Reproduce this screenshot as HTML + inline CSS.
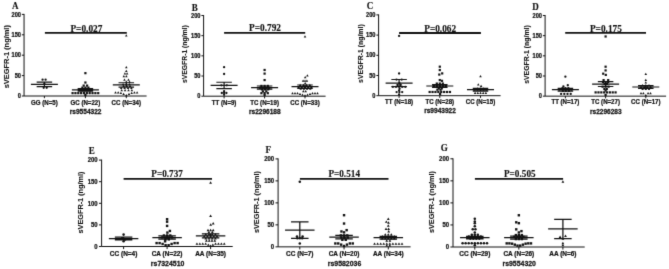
<!DOCTYPE html>
<html lang="en">
<head>
<meta charset="utf-8">
<title>sVEGFR-1 levels by genotype</title>
<style>
html,body{margin:0;padding:0;background:#fff;}
body{width:669px;height:269px;overflow:hidden;}
svg{display:block;}
text{fill:#111;font-weight:bold;stroke:#111;stroke-width:0.25px;}
text.ss{font-family:'Liberation Sans', Arial, sans-serif;}
text.sf{font-family:'Liberation Serif', 'Times New Roman', serif;stroke-width:0.15px;}
text.yl{stroke-width:0.1px;}
.ax{fill:none;stroke:#111;}
.pt{fill:#111;}
</style>
</head>
<body>
<svg width="669" height="269" viewBox="0 0 669 269">
<defs>
<filter id="soft" x="0" y="0" width="100%" height="100%" color-interpolation-filters="sRGB">
<feConvolveMatrix order="3" kernelMatrix="0.0113 0.0838 0.0113 0.0838 0.6193 0.0838 0.0113 0.0838 0.0113" edgeMode="duplicate" preserveAlpha="true"/>
</filter>
</defs>
<g filter="url(#soft)">
<rect width="669" height="269" fill="#fff"/>
<g id="panel-A">
<path class="ax" d="M24.05 13.9V96H146.6M21.85 96H24.05M21.85 75.6H24.05M21.85 55.2H24.05M21.85 34.8H24.05M21.85 14.4H24.05M44.4 96V98.2M85.4 96V98.2M126.3 96V98.2" stroke-width="1"/>
<text class="ss" transform="translate(20.95 98.17) scale(0.9 1)" text-anchor="end" font-size="6.3">0</text>
<text class="ss" transform="translate(20.95 77.77) scale(0.9 1)" text-anchor="end" font-size="6.3">50</text>
<text class="ss" transform="translate(20.95 57.37) scale(0.9 1)" text-anchor="end" font-size="6.3">100</text>
<text class="ss" transform="translate(20.95 36.97) scale(0.9 1)" text-anchor="end" font-size="6.3">150</text>
<text class="ss" transform="translate(20.95 16.57) scale(0.9 1)" text-anchor="end" font-size="6.3">200</text>
<text class="ss yl" transform="translate(8.7 56.7) rotate(-90)" text-anchor="middle" font-size="7.45">sVEGFR-1 (ng/ml)</text>
<text class="sf" transform="translate(12.1 8.8) scale(0.86 1)" font-size="10.5">A</text>
<path class="ax" d="M44.9 32.9H126.8" stroke-width="1.9"/>
<text class="sf" x="70.4" y="31.65" textLength="32" lengthAdjust="spacingAndGlyphs" font-size="10.4">P=0.027</text>
<text class="ss" transform="translate(85.6 113.9) scale(0.95 1)" text-anchor="middle" font-size="6.9">rs9554322</text>
<text class="ss" transform="translate(44.4 104.5) scale(0.9 1)" text-anchor="middle" font-size="6.8">GG (N=5)</text>
<g class="pt"><circle cx="42.6" cy="79.68" r="1.16"/><circle cx="45.6" cy="79.68" r="1.16"/><circle cx="44.4" cy="83.96" r="1.16"/><circle cx="43.7" cy="87.84" r="1.16"/><circle cx="46.7" cy="87.84" r="1.16"/></g>
<path class="ax" d="M30.9 84.33H57.9M36.65 82.13H52.15M36.65 86.53H52.15M44.4 82.13V86.53" stroke-width="1.2"/>
<text class="ss" transform="translate(85.4 104.5) scale(0.9 1)" text-anchor="middle" font-size="6.8">GC (N=22)</text>
<g class="pt"><rect x="84.3" y="72.05" width="2.2" height="2.2"/><rect x="84.3" y="81.44" width="2.2" height="2.2"/><rect x="82.6" y="84.5" width="2.2" height="2.2"/><rect x="86" y="84.5" width="2.2" height="2.2"/><rect x="81.3" y="86.54" width="2.2" height="2.2"/><rect x="84.3" y="86.54" width="2.2" height="2.2"/><rect x="87.3" y="86.54" width="2.2" height="2.2"/><rect x="80.1" y="87.96" width="2.2" height="2.2"/><rect x="82.9" y="87.96" width="2.2" height="2.2"/><rect x="85.7" y="87.96" width="2.2" height="2.2"/><rect x="88.5" y="87.96" width="2.2" height="2.2"/><rect x="80.5" y="89.19" width="2.2" height="2.2"/><rect x="83.3" y="89.19" width="2.2" height="2.2"/><rect x="86.1" y="89.19" width="2.2" height="2.2"/><rect x="88.9" y="89.19" width="2.2" height="2.2"/><rect x="71.48" y="92.04" width="2.2" height="2.2"/><rect x="74.33" y="92.04" width="2.2" height="2.2"/><rect x="77.18" y="92.04" width="2.2" height="2.2"/><rect x="80.03" y="92.04" width="2.2" height="2.2"/><rect x="82.88" y="92.04" width="2.2" height="2.2"/><rect x="85.73" y="92.04" width="2.2" height="2.2"/><rect x="88.58" y="92.04" width="2.2" height="2.2"/><rect x="91.43" y="92.04" width="2.2" height="2.2"/><rect x="94.28" y="92.04" width="2.2" height="2.2"/><rect x="97.13" y="92.04" width="2.2" height="2.2"/><rect x="84.3" y="93.88" width="2.2" height="2.2"/></g>
<path class="ax" d="M71.9 89.88H98.9M77.65 88.66H93.15M77.65 91.1H93.15M85.4 88.66V91.1" stroke-width="1.2"/>
<text class="ss" transform="translate(126.3 104.5) scale(0.9 1)" text-anchor="middle" font-size="6.8">CC (N=34)</text>
<g class="pt"><path d="M126.3 34.35L127.56 36.61L125.03 36.61Z"/><path d="M126.3 65.93L127.56 68.19L125.03 68.19Z"/><path d="M126.3 69.64L127.56 71.9L125.03 71.9Z"/><path d="M124.9 72.3L126.17 74.55L123.64 74.55Z"/><path d="M127.1 72.3L128.36 74.55L125.83 74.55Z"/><path d="M123.8 74.91L125.06 77.16L122.53 77.16Z"/><path d="M126.4 74.91L127.66 77.16L125.13 77.16Z"/><path d="M124.5 78.62L125.77 80.87L123.23 80.87Z"/><path d="M128.5 78.62L129.76 80.87L127.23 80.87Z"/><path d="M126.3 80.45L127.56 82.71L125.03 82.71Z"/><path d="M129.5 80.45L130.76 82.71L128.24 82.71Z"/><path d="M123.1 82.9L124.36 85.16L121.83 85.16Z"/><path d="M126.3 82.9L127.56 85.16L125.03 85.16Z"/><path d="M129.5 82.9L130.76 85.16L128.24 85.16Z"/><path d="M123.6 84.74L124.86 86.99L122.33 86.99Z"/><path d="M126.8 84.74L128.06 86.99L125.53 86.99Z"/><path d="M130 84.74L131.26 86.99L128.74 86.99Z"/><path d="M121.2 86.78L122.47 89.03L119.94 89.03Z"/><path d="M124.6 86.78L125.86 89.03L123.33 89.03Z"/><path d="M128 86.78L129.26 89.03L126.73 89.03Z"/><path d="M131.4 86.78L132.66 89.03L130.14 89.03Z"/><path d="M121.7 89.02L122.97 91.28L120.44 91.28Z"/><path d="M125.1 89.02L126.36 91.28L123.83 91.28Z"/><path d="M128.5 89.02L129.76 91.28L127.23 91.28Z"/><path d="M131.9 89.02L133.16 91.28L130.64 91.28Z"/><path d="M115.5 91.27L116.77 93.52L114.23 93.52Z"/><path d="M118.2 91.27L119.46 93.52L116.93 93.52Z"/><path d="M120.9 91.8L122.16 94.05L119.63 94.05Z"/><path d="M123.6 92.86L124.86 95.11L122.33 95.11Z"/><path d="M126.3 93.92L127.56 96.17L125.03 96.17Z"/><path d="M129 92.86L130.26 95.11L127.73 95.11Z"/><path d="M131.7 91.8L132.96 94.05L130.44 94.05Z"/><path d="M134.4 91.27L135.66 93.52L133.14 93.52Z"/><path d="M137.1 91.27L138.36 93.52L135.84 93.52Z"/></g>
<path class="ax" d="M112.8 84.9H139.8M118.55 82.74H134.05M118.55 87.06H134.05M126.3 82.74V87.06" stroke-width="1.2"/>
</g>
<g id="panel-B">
<path class="ax" d="M203.6 15V96.2H325.6M201.4 96.2H203.6M201.4 76.03H203.6M201.4 55.85H203.6M201.4 35.67H203.6M201.4 15.5H203.6M224.1 96.2V98.4M264.6 96.2V98.4M305 96.2V98.4" stroke-width="1"/>
<text class="ss" transform="translate(200.5 98.37) scale(0.9 1)" text-anchor="end" font-size="6.3">0</text>
<text class="ss" transform="translate(200.5 78.2) scale(0.9 1)" text-anchor="end" font-size="6.3">50</text>
<text class="ss" transform="translate(200.5 58.02) scale(0.9 1)" text-anchor="end" font-size="6.3">100</text>
<text class="ss" transform="translate(200.5 37.85) scale(0.9 1)" text-anchor="end" font-size="6.3">150</text>
<text class="ss" transform="translate(200.5 17.67) scale(0.9 1)" text-anchor="end" font-size="6.3">200</text>
<text class="ss yl" transform="translate(186.8 54.15) rotate(-90)" text-anchor="middle" font-size="6.8">sVEGFR-1 (ng/ml)</text>
<text class="sf" transform="translate(191.8 10.5) scale(0.86 1)" font-size="10.5">B</text>
<path class="ax" d="M224.1 32.9H305.2" stroke-width="1.9"/>
<text class="sf" x="249" y="31.35" textLength="32" lengthAdjust="spacingAndGlyphs" font-size="10.4">P=0.792</text>
<text class="ss" transform="translate(264.8 113.9) scale(0.95 1)" text-anchor="middle" font-size="6.9">rs2296188</text>
<text class="ss" transform="translate(224.1 104.5) scale(0.9 1)" text-anchor="middle" font-size="6.8">TT (N=9)</text>
<g class="pt"><circle cx="224.1" cy="67.15" r="1.16"/><circle cx="224.1" cy="74.01" r="1.16"/><circle cx="221.4" cy="85.31" r="1.16"/><circle cx="226.8" cy="85.31" r="1.16"/><circle cx="224.1" cy="91.16" r="1.16"/><circle cx="221.8" cy="92.97" r="1.16"/><circle cx="224.1" cy="92.97" r="1.16"/><circle cx="226.4" cy="92.97" r="1.16"/><circle cx="224.1" cy="94.79" r="1.16"/></g>
<path class="ax" d="M210.6 85.39H237.6M216.35 82.24H231.85M216.35 88.53H231.85M224.1 82.24V88.53" stroke-width="1.2"/>
<text class="ss" transform="translate(264.6 104.5) scale(0.9 1)" text-anchor="middle" font-size="6.8">TC (N=19)</text>
<g class="pt"><rect x="263.5" y="68.87" width="2.2" height="2.2"/><rect x="263.5" y="72.5" width="2.2" height="2.2"/><rect x="263.5" y="78.96" width="2.2" height="2.2"/><rect x="260.3" y="84.81" width="2.2" height="2.2"/><rect x="263.5" y="84.81" width="2.2" height="2.2"/><rect x="266.7" y="84.81" width="2.2" height="2.2"/><rect x="259" y="86.63" width="2.2" height="2.2"/><rect x="262" y="86.63" width="2.2" height="2.2"/><rect x="265" y="86.63" width="2.2" height="2.2"/><rect x="268" y="86.63" width="2.2" height="2.2"/><rect x="260.8" y="88.24" width="2.2" height="2.2"/><rect x="264" y="88.24" width="2.2" height="2.2"/><rect x="267.2" y="88.24" width="2.2" height="2.2"/><rect x="261.8" y="90.26" width="2.2" height="2.2"/><rect x="265.2" y="90.26" width="2.2" height="2.2"/><rect x="260.3" y="92.07" width="2.2" height="2.2"/><rect x="263.5" y="92.07" width="2.2" height="2.2"/><rect x="266.7" y="92.07" width="2.2" height="2.2"/><rect x="263.5" y="93.89" width="2.2" height="2.2"/></g>
<path class="ax" d="M251.1 87.61H278.1M256.85 85.99H272.35M256.85 89.22H272.35M264.6 85.99V89.22" stroke-width="1.2"/>
<text class="ss" transform="translate(305 104.5) scale(0.9 1)" text-anchor="middle" font-size="6.8">CC (N=33)</text>
<g class="pt"><path d="M305 35.22L306.26 37.47L303.74 37.47Z"/><path d="M307.4 74.15L308.66 76.41L306.13 76.41Z"/><path d="M305.2 75.97L306.46 78.23L303.94 78.23Z"/><path d="M303.1 79.6L304.37 81.86L301.84 81.86Z"/><path d="M305 79.6L306.26 81.86L303.74 81.86Z"/><path d="M306.9 79.6L308.16 81.86L305.63 81.86Z"/><path d="M305.2 82.02L306.46 84.28L303.94 84.28Z"/><path d="M300.2 83.64L301.46 85.89L298.94 85.89Z"/><path d="M303.4 83.64L304.66 85.89L302.13 85.89Z"/><path d="M306.6 83.64L307.87 85.89L305.34 85.89Z"/><path d="M309.8 83.64L311.06 85.89L308.54 85.89Z"/><path d="M298.6 85.65L299.87 87.91L297.34 87.91Z"/><path d="M301.8 85.65L303.06 87.91L300.54 87.91Z"/><path d="M305 85.65L306.26 87.91L303.74 87.91Z"/><path d="M308.2 85.65L309.46 87.91L306.94 87.91Z"/><path d="M311.4 85.65L312.66 87.91L310.13 87.91Z"/><path d="M300.7 87.47L301.96 89.73L299.44 89.73Z"/><path d="M303.9 87.47L305.16 89.73L302.63 89.73Z"/><path d="M307.1 87.47L308.37 89.73L305.84 89.73Z"/><path d="M310.3 87.47L311.56 89.73L309.04 89.73Z"/><path d="M303.3 90.09L304.56 92.35L302.04 92.35Z"/><path d="M305.7 90.09L306.96 92.35L304.44 92.35Z"/><path d="M292.5 91.91L293.76 94.16L291.24 94.16Z"/><path d="M295 91.91L296.26 94.16L293.74 94.16Z"/><path d="M297.5 92.01L298.76 94.26L296.24 94.26Z"/><path d="M300 92.78L301.26 95.04L298.74 95.04Z"/><path d="M302.5 93.56L303.76 95.81L301.24 95.81Z"/><path d="M305 94.33L306.26 96.58L303.74 96.58Z"/><path d="M307.5 93.56L308.76 95.81L306.24 95.81Z"/><path d="M310 92.78L311.26 95.04L308.74 95.04Z"/><path d="M312.5 92.01L313.76 94.26L311.24 94.26Z"/><path d="M315 91.91L316.26 94.16L313.74 94.16Z"/><path d="M317.5 91.91L318.76 94.16L316.24 94.16Z"/></g>
<path class="ax" d="M291.5 86.72H318.5M297.25 85.02H312.75M297.25 88.41H312.75M305 85.02V88.41" stroke-width="1.2"/>
</g>
<g id="panel-C">
<path class="ax" d="M378.6 14.4V95.7H500.6M376.4 95.7H378.6M376.4 75.5H378.6M376.4 55.3H378.6M376.4 35.1H378.6M376.4 14.9H378.6M399.1 95.7V97.9M439.8 95.7V97.9M480.5 95.7V97.9" stroke-width="1"/>
<text class="ss" transform="translate(375.5 97.87) scale(0.9 1)" text-anchor="end" font-size="6.3">0</text>
<text class="ss" transform="translate(375.5 77.67) scale(0.9 1)" text-anchor="end" font-size="6.3">50</text>
<text class="ss" transform="translate(375.5 57.47) scale(0.9 1)" text-anchor="end" font-size="6.3">100</text>
<text class="ss" transform="translate(375.5 37.27) scale(0.9 1)" text-anchor="end" font-size="6.3">150</text>
<text class="ss" transform="translate(375.5 17.07) scale(0.9 1)" text-anchor="end" font-size="6.3">200</text>
<text class="ss yl" transform="translate(363.2 53.6) rotate(-90)" text-anchor="middle" font-size="6.9">sVEGFR-1 (ng/ml)</text>
<text class="sf" transform="translate(366.8 8.9) scale(0.86 1)" font-size="10.5">C</text>
<path class="ax" d="M399.1 33H480.9" stroke-width="1.9"/>
<text class="sf" x="424.2" y="31.75" textLength="32" lengthAdjust="spacingAndGlyphs" font-size="10.4">P=0.062</text>
<text class="ss" transform="translate(440 113) scale(0.95 1)" text-anchor="middle" font-size="6.9">rs9943922</text>
<text class="ss" transform="translate(399.1 103.8) scale(0.9 1)" text-anchor="middle" font-size="6.8">TT (N=18)</text>
<g class="pt"><circle cx="399.1" cy="35.91" r="1.16"/><circle cx="399.1" cy="73.48" r="1.16"/><circle cx="396.5" cy="79.54" r="1.16"/><circle cx="401.7" cy="79.54" r="1.16"/><circle cx="399.5" cy="83.18" r="1.16"/><circle cx="397.5" cy="84.99" r="1.16"/><circle cx="400.7" cy="84.99" r="1.16"/><circle cx="392.9" cy="86.81" r="1.16"/><circle cx="396" cy="86.81" r="1.16"/><circle cx="399.1" cy="86.81" r="1.16"/><circle cx="402.2" cy="86.81" r="1.16"/><circle cx="405.3" cy="86.81" r="1.16"/><circle cx="399.6" cy="88.83" r="1.16"/><circle cx="399.1" cy="90.45" r="1.16"/><circle cx="396.6" cy="92.06" r="1.16"/><circle cx="399.4" cy="92.06" r="1.16"/><circle cx="402.2" cy="92.06" r="1.16"/><circle cx="399.1" cy="94.49" r="1.16"/></g>
<path class="ax" d="M385.6 83.05H412.6M391.35 79.5H406.85M391.35 86.61H406.85M399.1 79.5V86.61" stroke-width="1.2"/>
<text class="ss" transform="translate(439.8 103.8) scale(0.9 1)" text-anchor="middle" font-size="6.8">TC (N=28)</text>
<g class="pt"><rect x="438.7" y="65.59" width="2.2" height="2.2"/><rect x="438.7" y="68.95" width="2.2" height="2.2"/><rect x="441.1" y="72.3" width="2.2" height="2.2"/><rect x="438.2" y="73.47" width="2.2" height="2.2"/><rect x="438.7" y="78.97" width="2.2" height="2.2"/><rect x="440.9" y="79.73" width="2.2" height="2.2"/><rect x="435.7" y="82.48" width="2.2" height="2.2"/><rect x="438.7" y="82.48" width="2.2" height="2.2"/><rect x="441.7" y="82.48" width="2.2" height="2.2"/><rect x="432.7" y="84.1" width="2.2" height="2.2"/><rect x="435.7" y="84.1" width="2.2" height="2.2"/><rect x="438.7" y="84.1" width="2.2" height="2.2"/><rect x="441.7" y="84.1" width="2.2" height="2.2"/><rect x="444.7" y="84.1" width="2.2" height="2.2"/><rect x="432.7" y="85.71" width="2.2" height="2.2"/><rect x="435.7" y="85.71" width="2.2" height="2.2"/><rect x="438.7" y="85.71" width="2.2" height="2.2"/><rect x="441.7" y="85.71" width="2.2" height="2.2"/><rect x="444.7" y="85.71" width="2.2" height="2.2"/><rect x="437.7" y="87.33" width="2.2" height="2.2"/><rect x="440.7" y="87.33" width="2.2" height="2.2"/><rect x="436.3" y="88.62" width="2.2" height="2.2"/><rect x="439.5" y="88.62" width="2.2" height="2.2"/><rect x="428.55" y="90.88" width="2.2" height="2.2"/><rect x="431.45" y="90.88" width="2.2" height="2.2"/><rect x="434.35" y="90.88" width="2.2" height="2.2"/><rect x="437.25" y="90.88" width="2.2" height="2.2"/><rect x="440.15" y="90.88" width="2.2" height="2.2"/><rect x="443.05" y="90.88" width="2.2" height="2.2"/><rect x="445.95" y="90.88" width="2.2" height="2.2"/><rect x="448.85" y="90.88" width="2.2" height="2.2"/><rect x="439" y="92.78" width="2.2" height="2.2"/></g>
<path class="ax" d="M426.3 86H453.3M432.05 84.67H447.55M432.05 87.34H447.55M439.8 84.67V87.34" stroke-width="1.2"/>
<text class="ss" transform="translate(480.5 103.8) scale(0.9 1)" text-anchor="middle" font-size="6.8">CC (N=15)</text>
<g class="pt"><path d="M480.5 75.08L481.76 77.34L479.24 77.34Z"/><path d="M478.3 83.24L479.56 85.5L477.04 85.5Z"/><path d="M481.1 84.74L482.37 86.99L479.84 86.99Z"/><path d="M477.5 87.16L478.76 89.42L476.24 89.42Z"/><path d="M480.5 87.16L481.76 89.42L479.24 89.42Z"/><path d="M483.5 87.16L484.76 89.42L482.24 89.42Z"/><path d="M474.5 88.58L475.76 90.83L473.24 90.83Z"/><path d="M477.5 88.58L478.76 90.83L476.24 90.83Z"/><path d="M480.5 88.58L481.76 90.83L479.24 90.83Z"/><path d="M483.5 88.58L484.76 90.83L482.24 90.83Z"/><path d="M486.5 88.58L487.76 90.83L485.24 90.83Z"/><path d="M475.1 91.73L476.37 93.98L473.84 93.98Z"/><path d="M477.8 91.73L479.06 93.98L476.54 93.98Z"/><path d="M480.5 91.73L481.76 93.98L479.24 93.98Z"/><path d="M483.2 91.73L484.46 93.98L481.94 93.98Z"/><path d="M485.9 91.73L487.16 93.98L484.63 93.98Z"/></g>
<path class="ax" d="M467 89.72H494M472.75 88.39H488.25M472.75 91.05H488.25M480.5 88.39V91.05" stroke-width="1.2"/>
</g>
<g id="panel-D">
<path class="ax" d="M545.1 15V96.15H666.1M542.9 96.15H545.1M542.9 75.99H545.1M542.9 55.83H545.1M542.9 35.66H545.1M542.9 15.5H545.1M565.4 96.15V98.35M605.6 96.15V98.35M645.8 96.15V98.35" stroke-width="1"/>
<text class="ss" transform="translate(542 98.32) scale(0.9 1)" text-anchor="end" font-size="6.3">0</text>
<text class="ss" transform="translate(542 78.16) scale(0.9 1)" text-anchor="end" font-size="6.3">50</text>
<text class="ss" transform="translate(542 58) scale(0.9 1)" text-anchor="end" font-size="6.3">100</text>
<text class="ss" transform="translate(542 37.84) scale(0.9 1)" text-anchor="end" font-size="6.3">150</text>
<text class="ss" transform="translate(542 17.67) scale(0.9 1)" text-anchor="end" font-size="6.3">200</text>
<text class="ss yl" transform="translate(528.6 54.53) rotate(-90)" text-anchor="middle" font-size="6.9">sVEGFR-1 (ng/ml)</text>
<text class="sf" transform="translate(532.3 10.4) scale(0.86 1)" font-size="10.5">D</text>
<path class="ax" d="M565.2 32.9H646" stroke-width="1.9"/>
<text class="sf" x="589.9" y="31.65" textLength="32" lengthAdjust="spacingAndGlyphs" font-size="10.4">P=0.175</text>
<text class="ss" transform="translate(605.8 113.5) scale(0.95 1)" text-anchor="middle" font-size="6.9">rs2296283</text>
<text class="ss" transform="translate(565.4 104.2) scale(0.9 1)" text-anchor="middle" font-size="6.8">TT (N=17)</text>
<g class="pt"><circle cx="565.4" cy="76.63" r="1.16"/><circle cx="567.8" cy="85.26" r="1.16"/><circle cx="563.4" cy="86.47" r="1.16"/><circle cx="562.4" cy="88.09" r="1.16"/><circle cx="565.4" cy="88.09" r="1.16"/><circle cx="568.4" cy="88.09" r="1.16"/><circle cx="559.4" cy="89.5" r="1.16"/><circle cx="562.4" cy="89.5" r="1.16"/><circle cx="565.4" cy="89.5" r="1.16"/><circle cx="568.4" cy="89.5" r="1.16"/><circle cx="571.4" cy="89.5" r="1.16"/><circle cx="562.9" cy="91.11" r="1.16"/><circle cx="565.9" cy="91.11" r="1.16"/><circle cx="568.9" cy="91.11" r="1.16"/><circle cx="561.1" cy="93.89" r="1.16"/><circle cx="564.3" cy="93.89" r="1.16"/><circle cx="567.5" cy="93.89" r="1.16"/><circle cx="570.7" cy="93.89" r="1.16"/></g>
<path class="ax" d="M551.9 89.7H578.9M557.65 88.37H573.15M557.65 91.03H573.15M565.4 88.37V91.03" stroke-width="1.2"/>
<text class="ss" transform="translate(605.6 104.2) scale(0.9 1)" text-anchor="middle" font-size="6.8">TC (N=27)</text>
<g class="pt"><rect x="604.5" y="35.37" width="2.2" height="2.2"/><rect x="604.5" y="65.61" width="2.2" height="2.2"/><rect x="604.5" y="69.32" width="2.2" height="2.2"/><rect x="602.1" y="72.59" width="2.2" height="2.2"/><rect x="604.7" y="73.8" width="2.2" height="2.2"/><rect x="602.5" y="79" width="2.2" height="2.2"/><rect x="607.1" y="79" width="2.2" height="2.2"/><rect x="601.9" y="80.94" width="2.2" height="2.2"/><rect x="604.5" y="80.94" width="2.2" height="2.2"/><rect x="607.1" y="80.94" width="2.2" height="2.2"/><rect x="603.5" y="82.95" width="2.2" height="2.2"/><rect x="605.9" y="82.95" width="2.2" height="2.2"/><rect x="601.5" y="85.57" width="2.2" height="2.2"/><rect x="604.5" y="85.57" width="2.2" height="2.2"/><rect x="607.5" y="85.57" width="2.2" height="2.2"/><rect x="603.3" y="87.91" width="2.2" height="2.2"/><rect x="605.7" y="87.91" width="2.2" height="2.2"/><rect x="604.5" y="89.4" width="2.2" height="2.2"/><rect x="594.52" y="91.3" width="2.2" height="2.2"/><rect x="597.38" y="91.3" width="2.2" height="2.2"/><rect x="600.23" y="91.3" width="2.2" height="2.2"/><rect x="603.08" y="91.3" width="2.2" height="2.2"/><rect x="605.92" y="91.3" width="2.2" height="2.2"/><rect x="608.77" y="91.3" width="2.2" height="2.2"/><rect x="611.62" y="91.3" width="2.2" height="2.2"/><rect x="614.48" y="91.3" width="2.2" height="2.2"/><rect x="604.5" y="93.84" width="2.2" height="2.2"/></g>
<path class="ax" d="M592.1 84.09H619.1M597.85 81.67H613.35M597.85 86.51H613.35M605.6 81.67V86.51" stroke-width="1.2"/>
<text class="ss" transform="translate(645.8 104.2) scale(0.9 1)" text-anchor="middle" font-size="6.8">CC (N=17)</text>
<g class="pt"><path d="M645.8 72.71L647.06 74.96L644.53 74.96Z"/><path d="M645.8 78.76L647.06 81.01L644.53 81.01Z"/><path d="M645.8 81.17L647.06 83.43L644.53 83.43Z"/><path d="M642.6 84L643.86 86.25L641.33 86.25Z"/><path d="M645.8 84L647.06 86.25L644.53 86.25Z"/><path d="M649 84L650.26 86.25L647.74 86.25Z"/><path d="M641 85.81L642.26 88.07L639.74 88.07Z"/><path d="M644.2 85.81L645.46 88.07L642.93 88.07Z"/><path d="M647.4 85.81L648.66 88.07L646.13 88.07Z"/><path d="M650.6 85.81L651.86 88.07L649.33 88.07Z"/><path d="M642.6 87.63L643.86 89.88L641.33 89.88Z"/><path d="M645.8 87.63L647.06 89.88L644.53 89.88Z"/><path d="M649 87.63L650.26 89.88L647.74 89.88Z"/><path d="M641 92.06L642.26 94.32L639.73 94.32Z"/><path d="M643.4 92.06L644.66 94.32L642.13 94.32Z"/><path d="M648.1 92.06L649.36 94.32L646.83 94.32Z"/><path d="M650.5 92.06L651.76 94.32L649.24 94.32Z"/><path d="M645.8 94.08L647.06 96.33L644.53 96.33Z"/></g>
<path class="ax" d="M632.3 87H659.3M638.05 85.54H653.55M638.05 88.45H653.55M645.8 85.54V88.45" stroke-width="1.2"/>
</g>
<g id="panel-E">
<path class="ax" d="M101.6 159.6V246.5H232.7M99 246.5H101.6M99 224.9H101.6M99 203.3H101.6M99 181.7H101.6M99 160.1H101.6M123.6 246.5V249.1M167.1 246.5V249.1M210.6 246.5V249.1" stroke-width="1"/>
<text class="ss" transform="translate(97.6 248.78) scale(0.9 1)" text-anchor="end" font-size="6.6">0</text>
<text class="ss" transform="translate(97.6 227.18) scale(0.9 1)" text-anchor="end" font-size="6.6">50</text>
<text class="ss" transform="translate(97.6 205.58) scale(0.9 1)" text-anchor="end" font-size="6.6">100</text>
<text class="ss" transform="translate(97.6 183.98) scale(0.9 1)" text-anchor="end" font-size="6.6">150</text>
<text class="ss" transform="translate(97.6 162.38) scale(0.9 1)" text-anchor="end" font-size="6.6">200</text>
<text class="ss yl" transform="translate(82.9 202.5) rotate(-90)" text-anchor="middle" font-size="7.3">sVEGFR-1 (ng/ml)</text>
<text class="sf" transform="translate(88.7 153.8) scale(0.84 1)" font-size="10.8">E</text>
<path class="ax" d="M123.6 178.8H212" stroke-width="1.85"/>
<text class="sf" x="151.3" y="177.27" textLength="31.6" lengthAdjust="spacingAndGlyphs" font-size="11">P=0.737</text>
<text class="ss" transform="translate(167.6 265.6) scale(0.95 1)" text-anchor="middle" font-size="7.3">rs7324510</text>
<text class="ss" transform="translate(123.6 255.6) scale(0.9 1)" text-anchor="middle" font-size="7.2">CC (N=4)</text>
<g class="pt"><circle cx="123.6" cy="234.62" r="1.26"/><circle cx="122.1" cy="238.29" r="1.26"/><circle cx="125.1" cy="239.59" r="1.26"/><circle cx="123.6" cy="241.32" r="1.26"/></g>
<path class="ax" d="M108.85 238.51H138.35M114.85 237.13H132.35M114.85 239.89H132.35M123.6 237.13V239.89" stroke-width="1.25"/>
<text class="ss" transform="translate(167.1 255.6) scale(0.9 1)" text-anchor="middle" font-size="7.2">CA (N=22)</text>
<g class="pt"><rect x="165.9" y="218" width="2.4" height="2.4"/><rect x="165.9" y="220.5" width="2.4" height="2.4"/><rect x="165.9" y="224.69" width="2.4" height="2.4"/><rect x="168.7" y="229.75" width="2.4" height="2.4"/><rect x="166.2" y="231.39" width="2.4" height="2.4"/><rect x="162.7" y="234.28" width="2.4" height="2.4"/><rect x="165.9" y="234.28" width="2.4" height="2.4"/><rect x="169.1" y="234.28" width="2.4" height="2.4"/><rect x="161.1" y="236.23" width="2.4" height="2.4"/><rect x="164.3" y="236.23" width="2.4" height="2.4"/><rect x="167.5" y="236.23" width="2.4" height="2.4"/><rect x="170.7" y="236.23" width="2.4" height="2.4"/><rect x="164.2" y="238.17" width="2.4" height="2.4"/><rect x="167.6" y="238.17" width="2.4" height="2.4"/><rect x="163.9" y="240.12" width="2.4" height="2.4"/><rect x="155.4" y="241.89" width="2.4" height="2.4"/><rect x="158.4" y="241.89" width="2.4" height="2.4"/><rect x="161.4" y="242.76" width="2.4" height="2.4"/><rect x="164.4" y="244.02" width="2.4" height="2.4"/><rect x="167.4" y="244.02" width="2.4" height="2.4"/><rect x="170.4" y="242.76" width="2.4" height="2.4"/><rect x="173.4" y="241.89" width="2.4" height="2.4"/><rect x="176.4" y="241.89" width="2.4" height="2.4"/></g>
<path class="ax" d="M152.35 237.6H181.85M158.35 235.96H175.85M158.35 239.24H175.85M167.1 235.96V239.24" stroke-width="1.25"/>
<text class="ss" transform="translate(210.6 255.6) scale(0.9 1)" text-anchor="middle" font-size="7.2">AA (N=35)</text>
<g class="pt"><path d="M210.6 181.18L211.98 183.64L209.22 183.64Z"/><path d="M210.6 214.53L211.98 216.99L209.22 216.99Z"/><path d="M213.2 222.01L214.58 224.47L211.82 224.47Z"/><path d="M210.7 223.35L212.08 225.81L209.32 225.81Z"/><path d="M208 228.7L209.38 231.16L206.62 231.16Z"/><path d="M210.6 228.7L211.98 231.16L209.22 231.16Z"/><path d="M213.2 228.7L214.58 231.16L211.82 231.16Z"/><path d="M208.9 230.86L210.28 233.32L207.52 233.32Z"/><path d="M212.3 230.86L213.68 233.32L210.92 233.32Z"/><path d="M205.8 233.02L207.18 235.48L204.42 235.48Z"/><path d="M209 233.02L210.38 235.48L207.62 235.48Z"/><path d="M212.2 233.02L213.58 235.48L210.82 235.48Z"/><path d="M215.4 233.02L216.78 235.48L214.02 235.48Z"/><path d="M204.2 234.97L205.58 237.43L202.82 237.43Z"/><path d="M207.4 234.97L208.78 237.43L206.02 237.43Z"/><path d="M210.6 234.97L211.98 237.43L209.22 237.43Z"/><path d="M213.8 234.97L215.18 237.43L212.42 237.43Z"/><path d="M217 234.97L218.38 237.43L215.62 237.43Z"/><path d="M205.8 237.13L207.18 239.59L204.42 239.59Z"/><path d="M209 237.13L210.38 239.59L207.62 239.59Z"/><path d="M212.2 237.13L213.58 239.59L210.82 239.59Z"/><path d="M215.4 237.13L216.78 239.59L214.02 239.59Z"/><path d="M206.4 239.24L207.78 241.7L205.02 241.7Z"/><path d="M209.2 239.24L210.58 241.7L207.82 241.7Z"/><path d="M212 239.24L213.38 241.7L210.62 241.7Z"/><path d="M214.8 239.24L216.18 241.7L213.42 241.7Z"/><path d="M196.95 242.4L198.33 244.86L195.57 244.86Z"/><path d="M199.85 242.4L201.23 244.86L198.47 244.86Z"/><path d="M202.75 242.4L204.13 244.86L201.37 244.86Z"/><path d="M205.65 242.4L207.03 244.86L204.27 244.86Z"/><path d="M215.55 242.4L216.93 244.86L214.17 244.86Z"/><path d="M218.45 242.4L219.83 244.86L217.07 244.86Z"/><path d="M221.35 242.4L222.73 244.86L219.97 244.86Z"/><path d="M224.25 242.4L225.63 244.86L222.87 244.86Z"/><path d="M208.35 243.39L209.73 245.85L206.97 245.85Z"/><path d="M212.85 243.39L214.23 245.85L211.47 245.85Z"/><path d="M210.6 244.47L211.98 246.93L209.22 246.93Z"/></g>
<path class="ax" d="M195.85 235.92H225.35M201.85 233.84H219.35M201.85 237.99H219.35M210.6 233.84V237.99" stroke-width="1.25"/>
</g>
<g id="panel-F">
<path class="ax" d="M278.1 158.4V246.85H410.6M275.5 246.85H278.1M275.5 224.86H278.1M275.5 202.88H278.1M275.5 180.89H278.1M275.5 158.9H278.1M299.8 246.85V249.45M344.05 246.85V249.45M388.3 246.85V249.45" stroke-width="1"/>
<text class="ss" transform="translate(274.1 249.13) scale(0.9 1)" text-anchor="end" font-size="6.6">0</text>
<text class="ss" transform="translate(274.1 227.14) scale(0.9 1)" text-anchor="end" font-size="6.6">50</text>
<text class="ss" transform="translate(274.1 205.15) scale(0.9 1)" text-anchor="end" font-size="6.6">100</text>
<text class="ss" transform="translate(274.1 183.16) scale(0.9 1)" text-anchor="end" font-size="6.6">150</text>
<text class="ss" transform="translate(274.1 161.18) scale(0.9 1)" text-anchor="end" font-size="6.6">200</text>
<text class="ss yl" transform="translate(259 202.07) rotate(-90)" text-anchor="middle" font-size="7.3">sVEGFR-1 (ng/ml)</text>
<text class="sf" transform="translate(265.5 152.9) scale(0.84 1)" font-size="10.8">F</text>
<path class="ax" d="M299.9 178.8H388.5" stroke-width="1.85"/>
<text class="sf" x="328.4" y="176.97" textLength="31.6" lengthAdjust="spacingAndGlyphs" font-size="11">P=0.514</text>
<text class="ss" transform="translate(344.5 265.6) scale(0.95 1)" text-anchor="middle" font-size="7.3">rs9582036</text>
<text class="ss" transform="translate(299.8 255.6) scale(0.9 1)" text-anchor="middle" font-size="7.2">CC (N=7)</text>
<g class="pt"><circle cx="299.8" cy="181.77" r="1.26"/><circle cx="297" cy="236.52" r="1.26"/><circle cx="302.6" cy="236.52" r="1.26"/><circle cx="297.4" cy="238.27" r="1.26"/><circle cx="299.8" cy="238.27" r="1.26"/><circle cx="302.2" cy="238.27" r="1.26"/><circle cx="299.8" cy="243.6" r="1.26"/></g>
<path class="ax" d="M285.05 230.14H314.55M291.05 221.87H308.55M291.05 238.41H308.55M299.8 221.87V238.41" stroke-width="1.25"/>
<text class="ss" transform="translate(344.05 255.6) scale(0.9 1)" text-anchor="middle" font-size="7.2">CA (N=20)</text>
<g class="pt"><rect x="342.85" y="213.99" width="2.4" height="2.4"/><rect x="342.85" y="222.34" width="2.4" height="2.4"/><rect x="345.45" y="228.94" width="2.4" height="2.4"/><rect x="340.25" y="230.26" width="2.4" height="2.4"/><rect x="342.85" y="231.14" width="2.4" height="2.4"/><rect x="339.65" y="234.22" width="2.4" height="2.4"/><rect x="342.85" y="234.22" width="2.4" height="2.4"/><rect x="346.05" y="234.22" width="2.4" height="2.4"/><rect x="340.15" y="236.42" width="2.4" height="2.4"/><rect x="343.35" y="236.42" width="2.4" height="2.4"/><rect x="346.55" y="236.42" width="2.4" height="2.4"/><rect x="341.15" y="238.61" width="2.4" height="2.4"/><rect x="344.55" y="238.61" width="2.4" height="2.4"/><rect x="334.15" y="242.26" width="2.4" height="2.4"/><rect x="337.05" y="242.26" width="2.4" height="2.4"/><rect x="339.95" y="243.43" width="2.4" height="2.4"/><rect x="342.85" y="244.77" width="2.4" height="2.4"/><rect x="345.75" y="243.43" width="2.4" height="2.4"/><rect x="348.65" y="242.26" width="2.4" height="2.4"/><rect x="351.55" y="242.26" width="2.4" height="2.4"/></g>
<path class="ax" d="M329.3 237.18H358.8M335.3 235.42H352.8M335.3 238.93H352.8M344.05 235.42V238.93" stroke-width="1.25"/>
<text class="ss" transform="translate(388.3 255.6) scale(0.9 1)" text-anchor="middle" font-size="7.2">AA (N=34)</text>
<g class="pt"><path d="M388.3 217.46L389.68 219.92L386.92 219.92Z"/><path d="M386.3 220.4L387.68 222.86L384.92 222.86Z"/><path d="M388.5 221.28L389.88 223.74L387.12 223.74Z"/><path d="M388.3 224.36L389.68 226.82L386.92 226.82Z"/><path d="M386 227.44L387.38 229.9L384.62 229.9Z"/><path d="M388.6 227.44L389.98 229.9L387.22 229.9Z"/><path d="M388.7 230.08L390.08 232.54L387.32 232.54Z"/><path d="M385.3 233.16L386.68 235.62L383.92 235.62Z"/><path d="M388.3 233.16L389.68 235.62L386.92 235.62Z"/><path d="M391.3 233.16L392.68 235.62L389.92 235.62Z"/><path d="M382.3 234.92L383.68 237.38L380.92 237.38Z"/><path d="M385.3 234.92L386.68 237.38L383.92 237.38Z"/><path d="M388.3 234.92L389.68 237.38L386.92 237.38Z"/><path d="M391.3 234.92L392.68 237.38L389.92 237.38Z"/><path d="M394.3 234.92L395.68 237.38L392.92 237.38Z"/><path d="M382.3 237.11L383.68 239.57L380.92 239.57Z"/><path d="M385.3 237.11L386.68 239.57L383.92 239.57Z"/><path d="M388.3 237.11L389.68 239.57L386.92 239.57Z"/><path d="M391.3 237.11L392.68 239.57L389.92 239.57Z"/><path d="M394.3 237.11L395.68 239.57L392.92 239.57Z"/><path d="M386.7 239.31L388.08 241.77L385.32 241.77Z"/><path d="M389.9 239.31L391.28 241.77L388.52 241.77Z"/><path d="M374.57 242.39L375.95 244.85L373.19 244.85Z"/><path d="M377.62 242.39L379 244.85L376.25 244.85Z"/><path d="M380.68 242.39L382.06 244.85L379.3 244.85Z"/><path d="M383.73 242.39L385.11 244.85L382.35 244.85Z"/><path d="M386.78 242.39L388.16 244.85L385.4 244.85Z"/><path d="M389.82 242.39L391.2 244.85L388.44 244.85Z"/><path d="M392.88 242.39L394.25 244.85L391.5 244.85Z"/><path d="M395.93 242.39L397.31 244.85L394.55 244.85Z"/><path d="M398.98 242.39L400.36 244.85L397.6 244.85Z"/><path d="M402.03 242.39L403.41 244.85L400.65 244.85Z"/><path d="M386.8 244.15L388.18 246.61L385.42 246.61Z"/><path d="M389.8 244.15L391.18 246.61L388.42 246.61Z"/></g>
<path class="ax" d="M373.55 237.7H403.05M379.55 236.38H397.05M379.55 239.02H397.05M388.3 236.38V239.02" stroke-width="1.25"/>
</g>
<g id="panel-G">
<path class="ax" d="M453 158.3V247H584.7M450.4 247H453M450.4 224.95H453M450.4 202.9H453M450.4 180.85H453M450.4 158.8H453M474.8 247V249.6M518.85 247V249.6M562.9 247V249.6" stroke-width="1"/>
<text class="ss" transform="translate(449 249.28) scale(0.9 1)" text-anchor="end" font-size="6.6">0</text>
<text class="ss" transform="translate(449 227.23) scale(0.9 1)" text-anchor="end" font-size="6.6">50</text>
<text class="ss" transform="translate(449 205.18) scale(0.9 1)" text-anchor="end" font-size="6.6">100</text>
<text class="ss" transform="translate(449 183.13) scale(0.9 1)" text-anchor="end" font-size="6.6">150</text>
<text class="ss" transform="translate(449 161.08) scale(0.9 1)" text-anchor="end" font-size="6.6">200</text>
<text class="ss yl" transform="translate(434.3 202.1) rotate(-90)" text-anchor="middle" font-size="7.3">sVEGFR-1 (ng/ml)</text>
<text class="sf" transform="translate(440.8 150.9) scale(0.84 1)" font-size="10.8">G</text>
<path class="ax" d="M474.9 178.8H563.1" stroke-width="1.85"/>
<text class="sf" x="504" y="176.57" textLength="31.6" lengthAdjust="spacingAndGlyphs" font-size="11">P=0.505</text>
<text class="ss" transform="translate(519.2 265.6) scale(0.95 1)" text-anchor="middle" font-size="7.3">rs9554320</text>
<text class="ss" transform="translate(474.8 255.6) scale(0.9 1)" text-anchor="middle" font-size="7.2">CC (N=29)</text>
<g class="pt"><circle cx="474.8" cy="218.78" r="1.26"/><circle cx="474.8" cy="221.42" r="1.26"/><circle cx="474.8" cy="223.19" r="1.26"/><circle cx="474.8" cy="226.27" r="1.26"/><circle cx="472.75" cy="229.36" r="1.26"/><circle cx="475.45" cy="229.36" r="1.26"/><circle cx="474.8" cy="232.45" r="1.26"/><circle cx="471.8" cy="234.65" r="1.26"/><circle cx="474.8" cy="234.65" r="1.26"/><circle cx="477.8" cy="234.65" r="1.26"/><circle cx="468.8" cy="236.42" r="1.26"/><circle cx="471.8" cy="236.42" r="1.26"/><circle cx="474.8" cy="236.42" r="1.26"/><circle cx="477.8" cy="236.42" r="1.26"/><circle cx="480.8" cy="236.42" r="1.26"/><circle cx="470.3" cy="238.62" r="1.26"/><circle cx="473.3" cy="238.62" r="1.26"/><circle cx="476.3" cy="238.62" r="1.26"/><circle cx="479.3" cy="238.62" r="1.26"/><circle cx="462.6" cy="243.34" r="1.26"/><circle cx="465.65" cy="243.34" r="1.26"/><circle cx="468.7" cy="243.34" r="1.26"/><circle cx="471.75" cy="243.34" r="1.26"/><circle cx="474.8" cy="243.34" r="1.26"/><circle cx="477.85" cy="243.34" r="1.26"/><circle cx="480.9" cy="243.34" r="1.26"/><circle cx="483.95" cy="243.34" r="1.26"/><circle cx="487" cy="243.34" r="1.26"/><circle cx="474.8" cy="245.24" r="1.26"/></g>
<path class="ax" d="M460.05 237.65H489.55M466.05 236.42H483.55M466.05 238.89H483.55M474.8 236.42V238.89" stroke-width="1.25"/>
<text class="ss" transform="translate(518.85 255.6) scale(0.9 1)" text-anchor="middle" font-size="7.2">CA (N=26)</text>
<g class="pt"><rect x="517.65" y="214.05" width="2.4" height="2.4"/><rect x="515.05" y="221.1" width="2.4" height="2.4"/><rect x="517.65" y="221.99" width="2.4" height="2.4"/><rect x="515.05" y="228.16" width="2.4" height="2.4"/><rect x="520.25" y="229.92" width="2.4" height="2.4"/><rect x="517.65" y="231.25" width="2.4" height="2.4"/><rect x="514.65" y="233.89" width="2.4" height="2.4"/><rect x="517.65" y="233.89" width="2.4" height="2.4"/><rect x="520.65" y="233.89" width="2.4" height="2.4"/><rect x="513.15" y="235.66" width="2.4" height="2.4"/><rect x="516.15" y="235.66" width="2.4" height="2.4"/><rect x="519.15" y="235.66" width="2.4" height="2.4"/><rect x="522.15" y="235.66" width="2.4" height="2.4"/><rect x="514.65" y="237.86" width="2.4" height="2.4"/><rect x="517.65" y="237.86" width="2.4" height="2.4"/><rect x="520.65" y="237.86" width="2.4" height="2.4"/><rect x="505.5" y="242.18" width="2.4" height="2.4"/><rect x="508.2" y="242.18" width="2.4" height="2.4"/><rect x="510.9" y="242.49" width="2.4" height="2.4"/><rect x="513.6" y="243.46" width="2.4" height="2.4"/><rect x="516.3" y="244.43" width="2.4" height="2.4"/><rect x="519" y="244.43" width="2.4" height="2.4"/><rect x="521.7" y="243.46" width="2.4" height="2.4"/><rect x="524.4" y="242.49" width="2.4" height="2.4"/><rect x="527.1" y="242.18" width="2.4" height="2.4"/><rect x="529.8" y="242.18" width="2.4" height="2.4"/></g>
<path class="ax" d="M504.1 237.65H533.6M510.1 236.24H527.6M510.1 239.06H527.6M518.85 236.24V239.06" stroke-width="1.25"/>
<text class="ss" transform="translate(562.9 255.6) scale(0.9 1)" text-anchor="middle" font-size="7.2">AA (N=6)</text>
<g class="pt"><path d="M562.9 180.35L564.28 182.81L561.52 182.81Z"/><path d="M560.1 235.48L561.48 237.94L558.72 237.94Z"/><path d="M565.5 234.59L566.88 237.06L564.12 237.06Z"/><path d="M562.9 237.24L564.28 239.7L561.52 239.7Z"/><path d="M562.9 241.87L564.28 244.33L561.52 244.33Z"/><path d="M562.9 243.86L564.28 246.32L561.52 246.32Z"/></g>
<path class="ax" d="M548.15 228.92H577.65M554.15 219.31H571.65M554.15 238.53H571.65M562.9 219.31V238.53" stroke-width="1.25"/>
</g>
</g>
</svg>
</body>
</html>
